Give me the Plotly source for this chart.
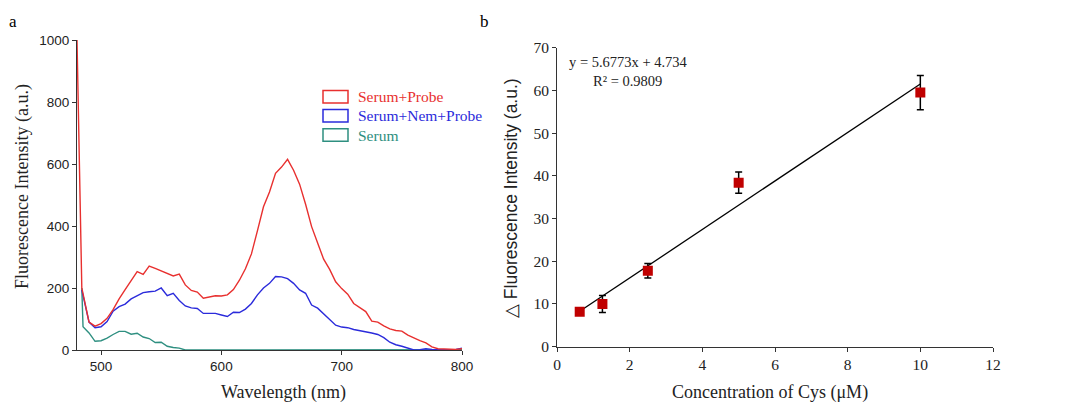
import plotly.graph_objects as go

W, H = 1086, 403

# ---------------- Panel a data ----------------
wl_red = [480, 484, 490, 495, 500, 505, 510, 515, 520, 525, 530, 535, 540, 545, 550, 555, 560, 565,
          570, 575, 580, 585, 590, 595, 600, 605, 610, 615, 620, 625, 630, 635, 640, 645, 650, 655,
          660, 665, 670, 675, 680, 685, 690, 695, 700, 705, 710, 715, 720, 725, 730, 735, 740, 745,
          750, 755, 760, 765, 770, 775, 780, 785, 790, 795, 800]
serum_probe = [1000, 200, 90, 77, 85, 102, 130, 165, 195, 225, 253, 244, 271, 263, 255, 248, 239, 245,
               210, 192, 187, 167, 172, 175, 174, 178, 195, 225, 262, 310, 385, 462, 510, 570, 590, 615,
               580, 535, 470, 398, 345, 293, 260, 220, 198, 180, 150, 137, 124, 93, 90, 78, 68, 63,
               61, 48, 38, 30, 23, 10, 4, 3, 2, 2, 4]

wl_blue = [484, 490, 495, 500, 505, 510, 515, 520, 525, 530, 535, 540, 545, 550, 555, 560, 565, 570,
           575, 580, 585, 590, 595, 600, 605, 610, 615, 620, 625, 630, 635, 640, 645, 650, 655, 660,
           665, 670, 675, 680, 685, 690, 695, 700, 705, 710, 715, 720, 725, 730, 735, 740, 745, 750,
           755, 760, 765, 770, 775, 780, 785, 790, 795, 800]
serum_nem_probe = [194, 90, 72, 75, 92, 125, 140, 148, 165, 174, 185, 188, 190, 200, 175, 183, 160, 142,
                   136, 134, 118, 118, 118, 113, 108, 122, 121, 132, 150, 178, 200, 215, 237, 236, 230, 215,
                   194, 183, 145, 135, 117, 97, 80, 74, 72, 66, 63, 60, 55, 50, 40, 25, 17, 12,
                   6, 0, 1, 4, 2, 1, 2, 1, 2, 6]

wl_teal = [484, 485, 490, 495, 500, 505, 510, 515, 520, 525, 530, 535, 540, 545, 550, 555, 560, 565,
           570, 580, 600, 620, 640, 660, 680, 700, 720, 740, 760, 780, 800]
serum = [200, 75, 55, 28, 30, 38, 50, 60, 60, 51, 54, 42, 37, 24, 25, 12, 8, 6,
         0, 0, 1, 1, 1, 2, 1, 1, 1, 1, 1, 1, 1]

# ---------------- Panel b data ----------------
conc = [0.625, 1.25, 2.5, 5, 10]
delta_fi = [8.2, 10.0, 17.8, 38.4, 59.5]
delta_err = [0.5, 2.0, 1.7, 2.5, 4.0]
fit_x = [0.625, 10]
fit_y = [8.28, 61.51]

a_xticks = [500, 600, 700, 800]
a_yticks = [0, 200, 400, 600, 800, 1000]
b_xticks = [0, 2, 4, 6, 8, 10, 12]
b_yticks = [0, 10, 20, 30, 40, 50, 60, 70]

RED = "#E8302F"
BLUE = "#2B2BDB"
TEAL = "#2E8F80"
SERIF = "Liberation Serif"
SANS = "Liberation Sans"

fig = go.Figure()
fig.add_trace(go.Scatter(x=wl_teal, y=serum, mode="lines", line=dict(color=TEAL, width=1.4),
                         xaxis="x", yaxis="y", showlegend=False))
fig.add_trace(go.Scatter(x=wl_blue, y=serum_nem_probe, mode="lines", line=dict(color=BLUE, width=1.4),
                         xaxis="x", yaxis="y", showlegend=False))
fig.add_trace(go.Scatter(x=wl_red, y=serum_probe, mode="lines", line=dict(color=RED, width=1.4),
                         xaxis="x", yaxis="y", showlegend=False))

fig.add_trace(go.Scatter(x=fit_x, y=fit_y, mode="lines", line=dict(color="black", width=1.3),
                         xaxis="x2", yaxis="y2", showlegend=False))
fig.add_trace(go.Scatter(x=conc, y=delta_fi, mode="markers",
                         marker=dict(symbol="square", size=10, color="#C00000"),
                         error_y=dict(type="data", array=delta_err, visible=True, color="black",
                                      thickness=1.5, width=3.5),
                         xaxis="x2", yaxis="y2", showlegend=False))

def px(x):
    return x / W

def py(y):
    return (H - y) / H

axis_common = dict(showline=True, linecolor="#333", linewidth=1, ticks="outside", ticklen=4,
                   tickcolor="#333", showgrid=False, zeroline=False, mirror=False, automargin=False)

fig.update_layout(
    width=W, height=H, margin=dict(l=0, r=0, t=0, b=0, autoexpand=False),
    paper_bgcolor="white", plot_bgcolor="white",
    xaxis=dict(domain=[px(77), px(462)], range=[480, 800], tickvals=a_xticks,
               tickfont=dict(family=SANS, size=13.5, color="#222"), anchor="y", **axis_common),
    yaxis=dict(domain=[py(350), py(40)], range=[0, 1000], tickvals=a_yticks,
               tickfont=dict(family=SANS, size=13.5, color="#222"), anchor="x", **axis_common),
    xaxis2=dict(domain=[px(557), px(993)], range=[0, 12], tickvals=b_xticks,
                tickfont=dict(family=SERIF, size=15.5, color="#222"), anchor="y2", **axis_common),
    yaxis2=dict(domain=[py(346.7), py(47.7)], range=[0, 70], tickvals=b_yticks,
                tickfont=dict(family=SERIF, size=15.5, color="#222"), anchor="x2", **axis_common),
)

ann = []
ann.append(dict(text="a", x=px(13), y=py(22), xref="paper", yref="paper", showarrow=False,
                font=dict(family=SERIF, size=17, color="black"), xanchor="center", yanchor="middle"))
ann.append(dict(text="b", x=px(484), y=py(22), xref="paper", yref="paper", showarrow=False,
                font=dict(family=SERIF, size=17, color="black"), xanchor="center", yanchor="middle"))
ann.append(dict(text="Fluorescence Intensity (a.u.)", x=px(22), y=py(187), xref="paper", yref="paper",
                showarrow=False, textangle=-90, font=dict(family=SERIF, size=18, color="#222"),
                xanchor="center", yanchor="middle"))
ann.append(dict(text="Wavelength (nm)", x=px(283), y=py(392), xref="paper", yref="paper",
                showarrow=False, font=dict(family=SERIF, size=18, color="#222"),
                xanchor="center", yanchor="middle"))
ann.append(dict(text="△ Fluorescence Intensity (a.u.)", x=px(511), y=py(198), xref="paper", yref="paper",
                showarrow=False, textangle=-90, font=dict(family=SANS, size=17.5, color="#222"),
                xanchor="center", yanchor="middle"))
ann.append(dict(text="Concentration of Cys (μM)", x=px(770), y=py(392), xref="paper", yref="paper",
                showarrow=False, font=dict(family=SERIF, size=18, color="#222"),
                xanchor="center", yanchor="middle"))
ann.append(dict(text="y = 5.6773x + 4.734", x=px(567), y=py(62), xref="paper", yref="paper",
                showarrow=False, font=dict(family=SERIF, size=14.5, color="#222"),
                xanchor="left", yanchor="middle"))
ann.append(dict(text="R² = 0.9809", x=px(591), y=py(81), xref="paper", yref="paper",
                showarrow=False, font=dict(family=SERIF, size=14.5, color="#222"),
                xanchor="left", yanchor="middle"))

legend_items = [("Serum+Probe", RED, 96.7), ("Serum+Nem+Probe", BLUE, 115.7), ("Serum", TEAL, 135)]
shapes = []
for label, col, cy in legend_items:
    shapes.append(dict(type="rect", xref="paper", yref="paper", x0=px(323), x1=px(348),
                       y0=py(cy + 6.3), y1=py(cy - 6.3), line=dict(color=col, width=1.5),
                       fillcolor="rgba(0,0,0,0)"))
    ann.append(dict(text=label, x=px(356), y=py(cy), xref="paper", yref="paper", showarrow=False,
                    font=dict(family=SERIF, size=15.5, color=col), xanchor="left", yanchor="middle"))

fig.update_layout(annotations=ann, shapes=shapes)
fig.write_html("out.html")
